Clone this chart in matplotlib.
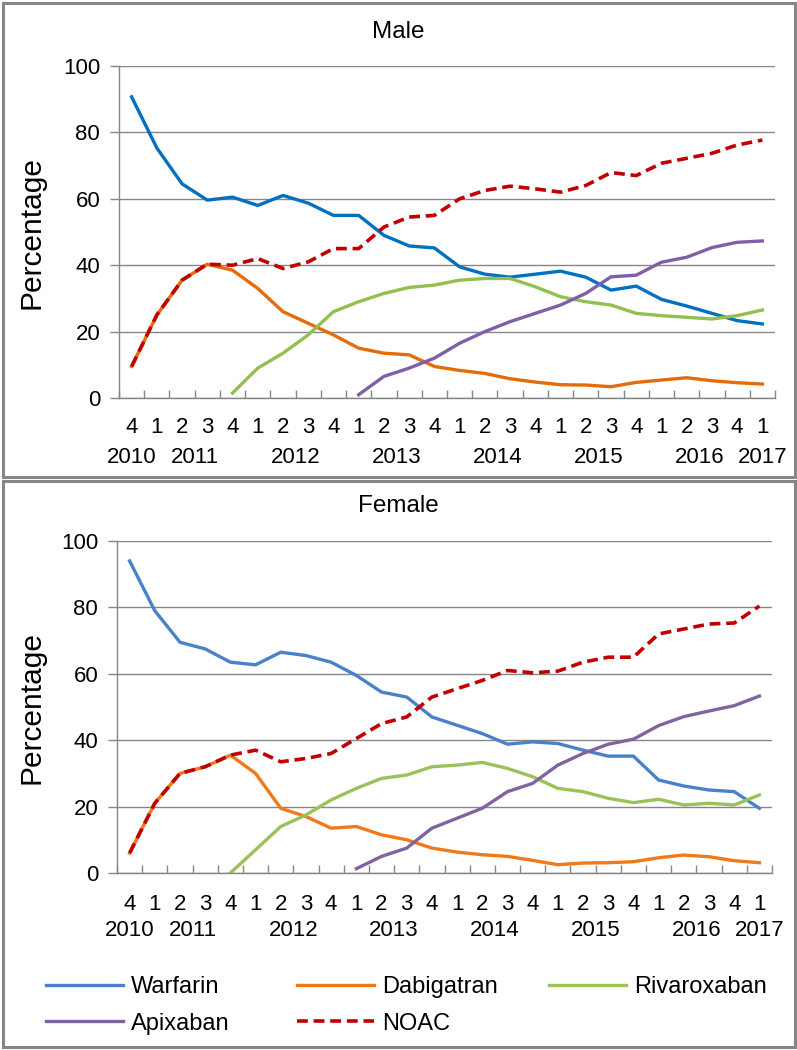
import numpy as np
import matplotlib
matplotlib.use("Agg")
import matplotlib.pyplot as plt
from matplotlib.patches import Rectangle
from matplotlib.transforms import blended_transform_factory

plt.rcParams['font.family'] = ['Liberation Sans', 'DejaVu Sans']

nan = np.nan

# quarters 2010 Q4 .. 2017 Q1
quarters = ['4', '1', '2', '3', '4', '1', '2', '3', '4', '1', '2', '3', '4',
            '1', '2', '3', '4', '1', '2', '3', '4', '1', '2', '3', '4', '1']
years = ['2010', '2011', '2012', '2013', '2014', '2015', '2016', '2017']
year_pos = [0, 2.5, 6.5, 10.5, 14.5, 18.5, 22.5, 25]

# male
m_warfarin = [90.7, 75.3, 64.5, 59.6, 60.5, 58, 61, 58.7, 55, 55, 49, 45.8, 45.2,
              39.5, 37.3, 36.4, 37.3, 38.2, 36.4, 32.5, 33.7, 29.7, 27.7, 25.5, 23.3, 22.3]
m_dabigatran = [9.5, 25, 35.5, 40.3, 38.5, 33, 26, 22.5, 19, 15, 13.5, 13, 9.5,
                8.3, 7.4, 5.8, 4.8, 4, 3.9, 3.4, 4.7, 5.4, 6.1, 5.2, 4.6, 4.2]
m_rivaroxaban = [nan, nan, nan, nan, 1.5, 9, 13.5, 19, 26, 29, 31.5, 33.3, 34,
                 35.5, 36, 36, 33.5, 30.5, 29, 28, 25.5, 24.8, 24.3, 23.8, 24.8, 26.5]
m_apixaban = [nan, nan, nan, nan, nan, nan, nan, nan, nan, 1, 6.5, 9, 12,
              16.5, 20, 23, 25.5, 28, 31.5, 36.5, 37, 40.9, 42.4, 45.3, 46.9, 47.3]
m_noac = [9.5, 25, 35.5, 40.3, 40, 42, 39, 41, 45, 45, 51.5, 54.5, 55,
          60, 62.5, 63.8, 63, 62, 64, 67.9, 67, 70.7, 72.2, 73.7, 76.2, 77.7]

# female
f_warfarin = [94, 79, 69.5, 67.5, 63.5, 62.7, 66.5, 65.5, 63.5, 59.5, 54.5, 53, 47,
              44.5, 42, 38.8, 39.5, 39, 37, 35.2, 35.2, 28, 26.2, 25, 24.5, 19.5]
f_dabigatran = [6, 21, 30, 32, 35.5, 30, 19.5, 17, 13.5, 14, 11.5, 10, 7.5,
                6.3, 5.5, 5, 3.8, 2.5, 3, 3.1, 3.4, 4.6, 5.4, 4.9, 3.7, 3.1]
f_rivaroxaban = [nan, nan, nan, nan, 0, 7, 14, 17.5, 22, 25.5, 28.5, 29.5, 32,
                 32.5, 33.3, 31.5, 29, 25.5, 24.5, 22.5, 21.2, 22.2, 20.5, 21, 20.5, 23.5]
f_apixaban = [nan, nan, nan, nan, nan, nan, nan, nan, nan, 1.3, 5, 7.5, 13.5,
              16.5, 19.5, 24.5, 27, 32.5, 36, 38.8, 40.3, 44.4, 47.1, 48.8, 50.4, 53.3]
f_noac = [6, 21, 30, 32, 35.5, 37, 33.5, 34.5, 36, 40.5, 45, 47, 53,
          55.5, 58, 61, 60.3, 60.8, 63.5, 65, 65, 72, 73.5, 75, 75.3, 80.4]

W, H = 797, 1050
fig = plt.figure(figsize=(W / 100, H / 100), dpi=100)

grey = '#868686'
# panel frames
for (y0, y1) in [(3, 477), (481, 1047)]:
    fig.patches.append(Rectangle((3 / W, 1 - y1 / H), 792 / W, (y1 - y0) / H,
                                 transform=fig.transFigure, fill=False,
                                 edgecolor=grey, linewidth=2.2))


def panel(left, right, top, bottom, data, cols, title, title_base, qy, yy, tick_dir):
    ax = fig.add_axes([left / W, 1 - bottom / H, (right - left) / W, (bottom - top) / H])
    x = np.arange(len(quarters))
    names = ['Warfarin', 'Dabigatran', 'Rivaroxaban', 'Apixaban', 'NOAC']
    for name, vals, c in zip(names, data, cols):
        if name == 'NOAC':
            ax.plot(x, vals, color=c, lw=2.6, ls=(0, (3, 1.6)), label=name)
        else:
            ax.plot(x, vals, color=c, lw=2.4, label=name, solid_joinstyle='round')
    ax.set_xlim(-0.5, len(quarters) - 0.5)
    ax.set_ylim(0, 100)
    ax.set_yticks([0, 20, 40, 60, 80, 100])
    ax.grid(axis='y', color=grey, lw=1)
    ax.set_axisbelow(True)
    for s in ['top', 'right']:
        ax.spines[s].set_visible(False)
    for s in ['left', 'bottom']:
        ax.spines[s].set_color(grey)
        ax.spines[s].set_linewidth(1)
    ax.tick_params(axis='y', direction='out', length=6.5, width=1, color=grey,
                   labelsize=16, pad=7)
    ax.set_xticks(np.arange(-0.5, len(quarters)), minor=True)
    ax.set_xticks([])
    ax.tick_params(axis='x', which='minor', direction=tick_dir, length=6, width=1, color=grey)
    tr = blended_transform_factory(ax.transData, ax.transAxes)
    for i, q in enumerate(quarters):
        ax.text(i, qy, q, transform=tr, ha='center', va='baseline', fontsize=16)
    for p, yr in zip(year_pos, years):
        ax.text(p, yy, yr, transform=tr, ha='center', va='baseline', fontsize=16)
    fig.text(0.5, 1 - title_base / H, title, ha='center', va='baseline', fontsize=17.5)
    fig.text(32 / W, 1 - (top + bottom) / 2 / H, 'Percentage', rotation=90,
             ha='center', va='center', fontsize=21.5)
    return ax


m_cols = ['#0070C0', '#E46C0A', '#92C050', '#7F5FA8', '#C00000']
f_cols = ['#4A82C8', '#F07A1A', '#9BC25A', '#8064A2', '#C00000']

panel(119, 775, 66, 398,
      [m_warfarin, m_dabigatran, m_rivaroxaban, m_apixaban, m_noac],
      m_cols, 'Male', 38, -0.105, -0.196, 'in')
ax2 = panel(117, 772, 541, 873,
            [f_warfarin, f_dabigatran, f_rivaroxaban, f_apixaban, f_noac],
            f_cols, 'Female', 512, -0.111, -0.190, 'in')

handles, labels = ax2.get_legend_handles_labels()
# one legend per column so the columns sit where the reference has them
columns = [[0, 3], [1, 4], [2]]
col_x = [46, 297, 549]
for idx, cx in zip(columns, col_x):
    leg = fig.legend([handles[i] for i in idx], [labels[i] for i in idx],
                     loc='upper left', bbox_to_anchor=(cx / W, 1 - 976 / H),
                     frameon=False, fontsize=17, handlelength=3.25, handletextpad=0.34,
                     labelspacing=0.62, borderpad=0, borderaxespad=0)

fig.savefig('out.png', dpi=100)
